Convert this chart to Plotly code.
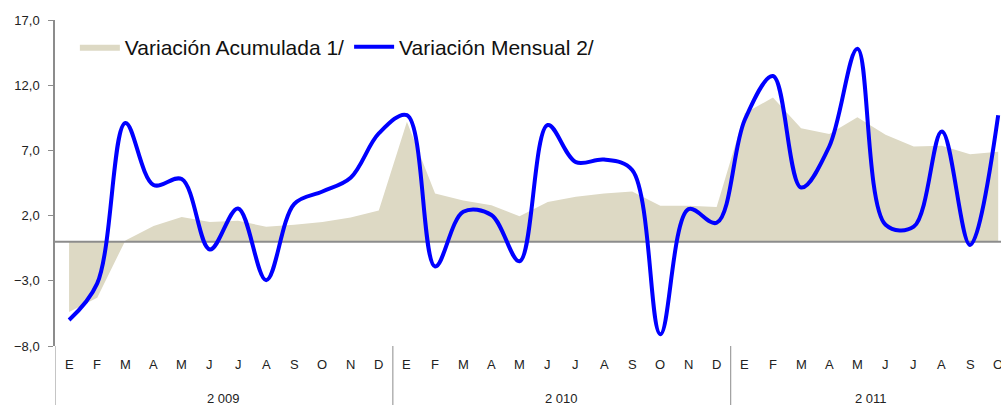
import plotly.graph_objects as go

# months and years (spanish initials)
meses = ["E", "F", "M", "A", "M", "J", "J", "A", "S", "O", "N", "D"]
anios = ["2 009", "2 010", "2 011"]
meses_por_anio = [12, 12, 10]

# variacion acumulada 1/ (area)
acumulada = [-5.4, -4.3, 0.1, 1.2, 1.9, 1.5, 1.6, 1.15, 1.3, 1.5, 1.85, 2.4,
             9.2, 3.7, 3.15, 2.8, 1.95, 3.05, 3.45, 3.7, 3.85, 2.75, 2.75, 2.65,
             9.85, 11.05, 8.7, 8.25, 9.55, 8.2, 7.3, 7.35, 6.7, 6.9]

# variacion mensual 2/ (linea suavizada)
mensual = [-6.0, -3.2, 9.1, 4.35, 4.8, -0.6, 2.55, -2.95, 2.9, 3.85, 4.9, 8.3,
           9.7, -1.9, 2.3, 2.05, -1.5, 8.95, 6.1, 6.3, 5.5, -7.1, 2.5, 1.45,
           9.35, 12.7, 4.15, 7.3, 14.8, 1.3, 1.15, 8.45, -0.25, 9.7]

etiquetas = []
for n in meses_por_anio:
    etiquetas += meses[:n]
x = list(range(len(etiquetas)))

fig = go.Figure()
fig.add_trace(go.Scatter(x=x, y=acumulada, mode='lines', fill='tozeroy',
                         fillcolor='#DDD9C4', line=dict(width=0, color='#DDD9C4'),
                         name='Variación Acumulada 1/'))
# eje cero (cruce del eje X)
fig.add_trace(go.Scatter(x=[-0.5, len(x) - 0.5], y=[0, 0], mode='lines',
                         line=dict(color='#8C8C8C', width=2),
                         showlegend=False, hoverinfo='skip'))
fig.add_trace(go.Scatter(x=x, y=mensual, mode='lines',
                         line=dict(color='#0000FF', width=4, shape='spline', smoothing=1),
                         name='Variación Mensual 2/'))

# month labels and year labels below the plot
for i, m in enumerate(etiquetas):
    fig.add_annotation(x=i, y=-0.058, xref='x', yref='paper', text=m,
                       yanchor='middle', showarrow=False,
                       font=dict(size=13, color='#222222'))
inicio = 0
for anio, n in zip(anios, meses_por_anio):
    fig.add_annotation(x=inicio + (n - 1) / 2, y=-0.16, xref='x', yref='paper',
                       text=anio, yanchor='middle', showarrow=False,
                       font=dict(size=13, color='#222222'))
    fig.add_shape(type='line', x0=inicio - 0.5, x1=inicio - 0.5, xref='x',
                  y0=0, y1=-0.2, yref='paper', line=dict(color='#8C8C8C', width=1))
    inicio += n

fig.update_layout(
    width=1001, height=405,
    margin=dict(l=55, r=0, t=20, b=59),
    plot_bgcolor='white', paper_bgcolor='white',
    font=dict(family='Liberation Sans, Arial, sans-serif', color='#222222'),
    separators=', ',
    showlegend=True,
    legend=dict(orientation='h', x=0.021, y=0.917, xanchor='left', yanchor='middle',
                font=dict(size=21, color='#111111'), bgcolor='rgba(0,0,0,0)',
                itemwidth=40, tracegroupgap=0),
    xaxis=dict(range=[-0.5, 33.1], showticklabels=False, showgrid=False,
               zeroline=False, showline=False, ticks='', automargin=False),
    yaxis=dict(range=[-8, 17], tick0=-8, dtick=5, tickformat='.1f',
               showgrid=False, zeroline=False, showline=True, automargin=False,
               linecolor='#8C8C8C', linewidth=1.5, ticks='outside', ticklen=5,
               tickcolor='#8C8C8C', ticklabelstandoff=6,
               tickfont=dict(size=13, color='#222222')),
)

# the page's default body margin would shift the chart by 8px
fig.write_html("out.html", config={'displayModeBar': False},
               post_script="document.body.style.margin = '0';")
